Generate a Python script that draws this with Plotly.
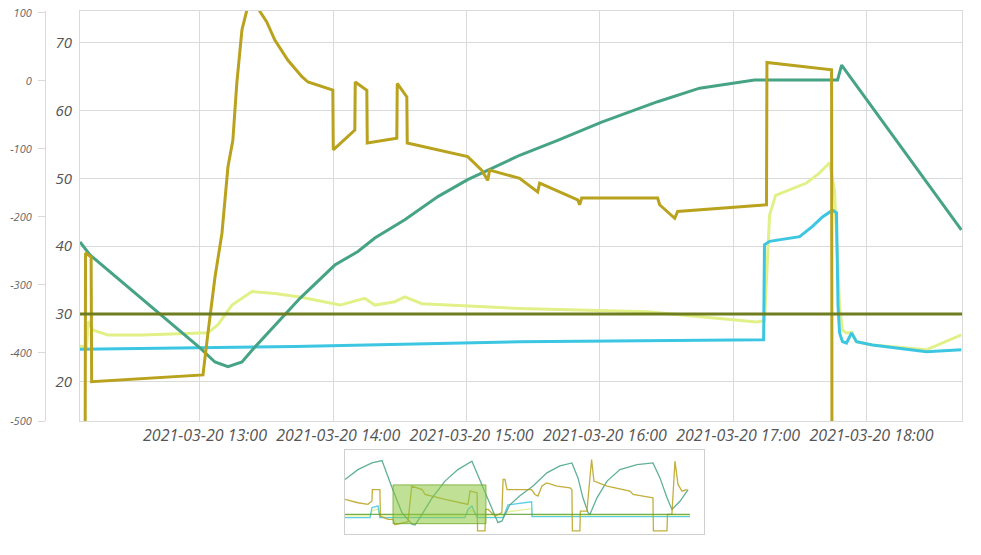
import plotly.graph_objects as go

DAY = "2021-03-20"
MAIN_START = "2021-03-20 12:06:00"
MAIN_END = "2021-03-20 18:43:00"
NAV_START = "2021-03-20 08:41"
NAV_END = "2021-03-21 10:14"

# ---------------- main chart series (time of day, value on inner axis) ----------------
TEAL_T = ["12:06:00", "12:10:30", "13:00:00", "13:06:45", "13:12:36", "13:18:54", "13:24:42",
          "13:45:00", "14:00:42", "14:11:06", "14:18:42", "14:32:12", "14:47:06", "15:00:30",
          "15:23:54", "15:41:00", "16:00:48", "16:26:00", "16:44:54", "17:09:36", "17:47:00",
          "17:48:48", "18:42:42"]
TEAL_V = [40.6, 38.7, 25.0, 22.9, 22.2, 22.9, 25.1, 32.3, 37.2, 39.2, 41.2, 43.9, 47.3, 49.8,
          53.4, 55.6, 58.3, 61.3, 63.3, 64.5, 64.5, 66.7, 42.4]

GOLD_T = ["12:06:00", "12:08:15", "12:08:30", "12:11:00", "12:11:15", "13:01:21", "13:03:36",
          "13:06:45", "13:09:54", "13:12:36", "13:14:48", "13:16:36", "13:18:54", "13:21:06",
          "13:23:48", "13:27:00", "13:30:00", "13:33:42", "13:39:36", "13:43:12", "13:45:54",
          "13:48:36", "13:59:48", "14:00:00", "14:09:42", "14:09:54", "14:15:06", "14:15:18",
          "14:28:36", "14:28:48", "14:33:06", "14:33:18", "15:00:30", "15:06:48", "15:09:30",
          "15:10:24", "15:23:54", "15:32:00", "15:32:54", "15:50:00", "15:50:54", "15:51:48",
          "16:26:00", "16:26:54", "16:33:42", "16:35:00", "17:15:00", "17:15:12", "17:44:18",
          "17:44:30", "18:43:00"]
GOLD_V = [0, 0, 39.0, 38.4, 20.0, 21.0, 27.2, 35.4, 41.9, 51.7, 55.6, 64.1, 71.9, 74.8, 77.0,
          74.6, 73.1, 70.4, 67.4, 66.0, 65.0, 64.2, 63.0, 54.2, 57.1, 64.2, 63.0, 55.2, 55.9,
          64.0, 62.0, 55.2, 53.2, 51.2, 49.7, 51.2, 50.0, 48.0, 49.3, 46.8, 46.1, 47.1, 47.1,
          46.1, 44.1, 45.1, 46.1, 67.1, 66.0, 0, 0]

YEL_T = ["12:06:00", "12:09:00", "12:09:36", "12:11:54", "12:18:36", "12:33:54", "13:03:36",
         "13:08:06", "13:14:24", "13:23:24", "13:33:42", "13:45:00", "14:03:00", "14:14:12",
         "14:18:42", "14:27:42", "14:32:12", "14:39:54", "15:23:54", "16:21:30", "17:10:30",
         "17:14:06", "17:16:24", "17:19:06", "17:33:00", "17:38:54", "17:43:24", "17:45:36",
         "17:47:54", "17:49:12", "17:51:00", "17:53:18", "17:55:30", "18:02:42", "18:27:00",
         "18:42:42"]
YEL_V = [25.2, 25.2, 28.9, 27.6, 26.9, 26.9, 27.2, 28.4, 31.3, 33.3, 33.0, 32.5, 31.3, 32.3,
         31.3, 31.8, 32.5, 31.5, 30.8, 30.3, 28.8, 29.0, 44.6, 47.5, 49.3, 50.8, 52.3, 48.3,
         31.0, 27.6, 27.2, 27.3, 25.9, 25.4, 24.7, 26.9]

CYAN_T = ["12:06:00", "13:42:42", "15:23:54", "17:09:36", "17:13:42", "17:14:06", "17:16:24",
          "17:29:54", "17:35:42", "17:40:12", "17:44:42", "17:46:30", "17:47:12", "17:47:54",
          "17:49:12", "17:51:00", "17:53:18", "17:55:30", "18:02:42", "18:27:00", "18:42:42"]
CYAN_V = [24.8, 25.2, 25.9, 26.1, 26.2, 40.2, 40.7, 41.4, 42.9, 44.3, 45.3, 44.9, 31.1, 27.2,
          25.9, 25.7, 27.2, 25.9, 25.4, 24.4, 24.7]

OLIVE_T = ["12:06:00", "18:43:00"]
OLIVE_V = [30, 30]

# outer (left) axis ticks
OUTER_TICKS = [100, 0, -100, -200, -300, -400, -500]
OUTER_LABELS = ["100", "0", "-100", "-200", "-300", "-400", "-500"]

# ---------------- navigator series ----------------
NAV_TEAL_T = ["2021-03-20 08:41", "2021-03-20 09:36", "2021-03-20 10:36", "2021-03-20 11:10",
              "2021-03-20 11:19", "2021-03-20 12:02", "2021-03-20 12:44", "2021-03-20 13:27",
              "2021-03-20 13:40", "2021-03-20 14:10", "2021-03-20 14:53", "2021-03-20 15:48",
              "2021-03-20 16:43", "2021-03-20 17:43", "2021-03-20 18:26", "2021-03-20 19:09",
              "2021-03-20 19:34", "2021-03-20 19:51", "2021-03-20 20:25", "2021-03-20 21:08",
              "2021-03-20 22:04", "2021-03-20 23:03", "2021-03-20 23:59", "2021-03-21 00:50",
              "2021-03-21 01:16", "2021-03-21 01:37", "2021-03-21 01:59", "2021-03-21 02:07",
              "2021-03-21 02:37", "2021-03-21 03:20", "2021-03-21 04:15", "2021-03-21 05:28",
              "2021-03-21 06:36", "2021-03-21 07:06", "2021-03-21 07:36", "2021-03-21 07:57",
              "2021-03-21 08:32", "2021-03-21 09:06"]
NAV_TEAL_V = [54.0, 60.8, 65.4, 66.6, 67.0, 48.3, 31.2, 23.2, 22.7, 30.0, 41.4, 52.9, 60.8,
              66.6, 50.6, 33.4, 24.3, 25.5, 36.6, 42.8, 49.5, 58.6, 63.4, 65.4, 55.1, 41.4,
              31.2, 30.0, 41.4, 52.9, 60.8, 64.3, 65.4, 55.1, 41.4, 33.4, 39.2, 47.1]

NAV_GOLD_T = ["2021-03-20 08:41", "2021-03-20 09:36", "2021-03-20 10:19", "2021-03-20 10:36",
              "2021-03-20 10:38", "2021-03-20 11:10", "2021-03-20 11:12", "2021-03-20 11:45",
              "2021-03-20 12:06", "2021-03-20 12:14", "2021-03-20 13:10", "2021-03-20 13:26",
              "2021-03-20 14:10", "2021-03-20 14:23", "2021-03-20 15:48", "2021-03-20 17:26",
              "2021-03-20 17:35", "2021-03-20 18:05", "2021-03-20 18:07", "2021-03-20 18:39",
              "2021-03-20 18:41", "2021-03-20 18:52", "2021-03-20 19:22", "2021-03-20 19:51",
              "2021-03-20 19:56", "2021-03-20 20:04", "2021-03-20 20:13", "2021-03-20 21:58",
              "2021-03-20 22:12", "2021-03-20 22:25", "2021-03-20 22:42", "2021-03-20 23:03",
              "2021-03-20 23:46", "2021-03-21 00:42", "2021-03-21 00:50", "2021-03-21 00:52",
              "2021-03-21 01:24", "2021-03-21 01:26", "2021-03-21 01:54", "2021-03-21 02:14",
              "2021-03-21 02:24", "2021-03-21 03:20", "2021-03-21 04:58", "2021-03-21 05:11",
              "2021-03-21 05:54", "2021-03-21 06:36", "2021-03-21 06:38", "2021-03-21 07:36",
              "2021-03-21 07:38", "2021-03-21 07:57", "2021-03-21 08:10", "2021-03-21 08:23",
              "2021-03-21 08:40", "2021-03-21 09:01"]
NAV_GOLD_V = [40.3, 38.0, 36.9, 39.2, 47.1, 47.1, 28.9, 26.6, 26.6, 22.9, 25.0, 49.5, 47.1,
              43.7, 40.3, 36.9, 46.0, 44.9, 18.6, 18.6, 33.4, 33.4, 28.9, 31.2, 54.0, 54.0,
              47.1, 47.1, 43.7, 42.6, 49.5, 51.7, 49.5, 48.3, 47.1, 18.6, 18.6, 32.3, 32.3,
              67.7, 52.9, 49.5, 46.0, 43.7, 42.6, 41.4, 18.6, 18.6, 30.0, 30.0, 66.6, 50.6,
              46.0, 47.1]

NAV_CYAN_T = ["2021-03-20 08:41", "2021-03-20 10:28", "2021-03-20 10:36", "2021-03-20 11:02",
              "2021-03-20 11:10", "2021-03-20 17:13", "2021-03-20 17:26", "2021-03-20 17:43",
              "2021-03-20 18:05", "2021-03-20 19:56", "2021-03-20 20:17", "2021-03-20 21:58",
              "2021-03-20 22:00", "2021-03-21 09:14"]
NAV_CYAN_V = [27.7, 27.7, 34.6, 35.8, 27.7, 27.7, 33.4, 35.8, 27.7, 27.7, 36.6, 38.7, 28.4, 28.4]

NAV_YEL_T = NAV_CYAN_T
NAV_YEL_V = [29.0, 29.0, 32.5, 33.5, 29.0, 29.0, 31.5, 33.0, 29.0, 29.0, 31.8, 33.9, 29.0, 29.0]

NAV_GREEN_T = ["2021-03-20 08:41", "2021-03-21 09:14"]
NAV_GREEN_V = [30, 30]

SEL_LOW, SEL_HIGH = 23.6, 50.3

# ---------------- styles ----------------
C_TEAL = "#46a386"
C_GOLD = "#b9a21d"
C_YEL = "#e2f088"
C_CYAN = "#3cc6e2"
C_OLIVE = "#6e7d1e"
C_NAVGREEN = "#5d9f32"
GRID = "#dadada"
W, H = 981, 555


def ts(arr):
    return [f"{DAY} {t}" for t in arr]


fig = go.Figure()

main = [
    (YEL_T, YEL_V, C_YEL),
    (CYAN_T, CYAN_V, C_CYAN),
    (TEAL_T, TEAL_V, C_TEAL),
    (GOLD_T, GOLD_V, C_GOLD),
    (OLIVE_T, OLIVE_V, C_OLIVE),
]
for t, v, c in main:
    fig.add_trace(go.Scatter(x=ts(t), y=v, mode="lines", line=dict(color=c, width=3),
                             xaxis="x", yaxis="y", hoverinfo="skip"))

# outer axis holder
fig.add_trace(go.Scatter(x=[None], y=[None], xaxis="x", yaxis="y2", mode="lines",
                         hoverinfo="skip"))

nav = [
    (NAV_YEL_T, NAV_YEL_V, C_YEL),
    (NAV_CYAN_T, NAV_CYAN_V, C_CYAN),
    (NAV_TEAL_T, NAV_TEAL_V, C_TEAL),
    (NAV_GOLD_T, NAV_GOLD_V, C_GOLD),
    (NAV_GREEN_T, NAV_GREEN_V, C_NAVGREEN),
]
for t, v, c in nav:
    fig.add_trace(go.Scatter(x=t, y=v, mode="lines", line=dict(color=c, width=1.3),
                             opacity=0.85, xaxis="x2", yaxis="y3", hoverinfo="skip"))

fig.add_shape(type="rect", xref="x2", yref="y3", x0=MAIN_START, x1=MAIN_END,
              y0=SEL_LOW, y1=SEL_HIGH, fillcolor="rgba(140,198,63,0.55)",
              line=dict(color="rgba(110,170,40,0.8)", width=1), layer="above")

tick_italic = dict(family="Open Sans", style="italic")

fig.update_layout(
    autosize=True, margin=dict(l=0, r=0, t=0, b=0, autoexpand=False),
    paper_bgcolor="white", plot_bgcolor="white", showlegend=False,
    xaxis=dict(domain=[80 / W, 962 / W], anchor="y", type="date", automargin=False,
               range=[MAIN_START, MAIN_END], dtick=3600000, tick0="2021-03-20 00:00",
               tickformat="%Y-%m-%d %H:%M", showgrid=True, gridcolor=GRID, gridwidth=1,
               showline=True, linecolor=GRID, mirror=True, ticks="", zeroline=False,
               tickfont=dict(size=16, color="#555", **tick_italic), ticklabelshift=5),
    yaxis=dict(domain=[1 - 421 / H, 1 - 11 / H], anchor="x", range=[14.2, 74.68],
               automargin=False,
               tick0=0, dtick=10, showgrid=True, gridcolor=GRID, gridwidth=1,
               showline=True, linecolor=GRID, mirror=True, ticks="", zeroline=False,
               tickfont=dict(size=15, color="#555", **tick_italic), ticklabelstandoff=4),
    yaxis2=dict(overlaying="y", anchor="free", position=45 / W, side="left",
                automargin=False,
                range=[-500, 102.5], tickmode="array", tickvals=OUTER_TICKS,
                ticktext=OUTER_LABELS, showgrid=False, zeroline=False,
                showline=True, linecolor=GRID, ticks="outside", ticklen=7, tickcolor=GRID,
                tickfont=dict(size=11, color="#666", **tick_italic), ticklabelstandoff=4),
    xaxis2=dict(domain=[345 / W, 704 / W], anchor="y3", type="date", automargin=False,
                range=[NAV_START, NAV_END], showticklabels=False, showgrid=False,
                showline=True, mirror=True, linecolor="#cfcfcf", ticks="", zeroline=False),
    yaxis3=dict(domain=[1 - 534 / H, 1 - 450 / H], anchor="x2", range=[16.5, 74.3],
                automargin=False,
                showticklabels=False, showgrid=False, showline=True, mirror=True,
                linecolor="#cfcfcf", ticks="", zeroline=False),
)

POST = (
    "var h=document.documentElement.style;h.height='100%';h.margin='0';h.overflow='hidden';"
    "var b=document.body.style;b.height='100%';b.margin='0';b.overflow='hidden';"
    "var gd=document.getElementById('{plot_id}');gd.parentElement.style.height='100%';"
    "gd.style.height='100%';gd.style.width='100%';Plotly.Plots.resize(gd);"
)

fig.write_html("out.html", config={"displayModeBar": False, "responsive": True},
               default_width="100%", default_height="100%", post_script=POST)
